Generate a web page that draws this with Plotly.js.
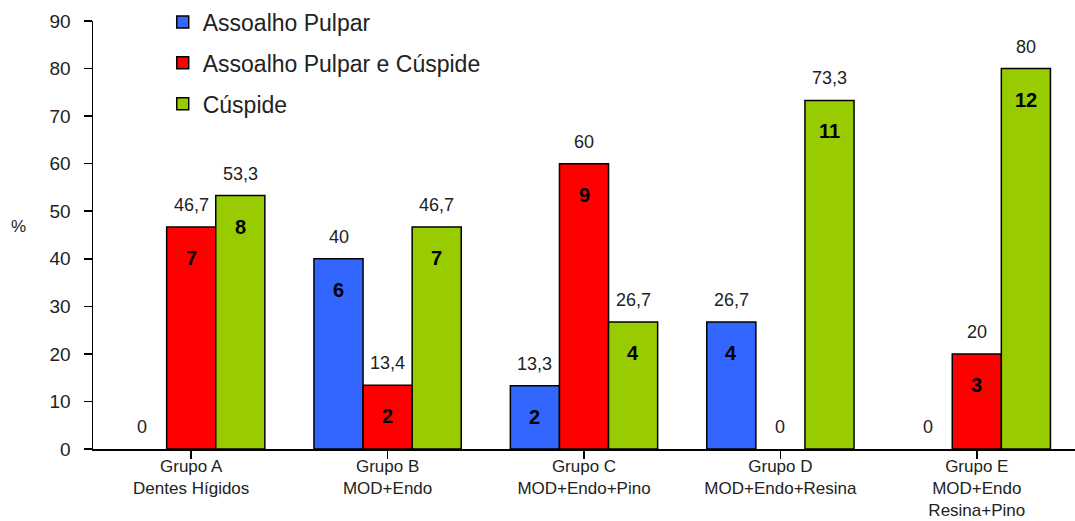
<!DOCTYPE html>
<html>
<head>
<meta charset="utf-8">
<script src="https://cdn.plot.ly/plotly-3.0.1.min.js"></script>
<style>html,body{margin:0;padding:0;background:#fff;}#chart{width:1075px;height:521px;}</style>
</head>
<body>
<div id="chart"></div>
<script>
const categories = ["Grupo A<br>Dentes Hígidos", "Grupo B<br>MOD+Endo", "Grupo C<br>MOD+Endo+Pino", "Grupo D<br>MOD+Endo+Resina", "Grupo E<br>MOD+Endo<br>Resina+Pino"];
const seriesNames = ["Assoalho Pulpar", "Assoalho Pulpar e Cúspide", "Cúspide"];
const seriesColors = ["#3366FF", "#FF0000", "#99CC00"];
const pulpar = [0, 40, 13.3, 26.7, 0];
const pulparCuspide = [46.7, 13.4, 60, 0, 20];
const cuspide = [53.3, 46.7, 26.7, 73.3, 80];
const pulparLabels = ["0", "40", "13,3", "26,7", "0"];
const pulparCuspideLabels = ["46,7", "13,4", "60", "0", "20"];
const cuspideLabels = ["53,3", "46,7", "26,7", "73,3", "80"];
const pulparCounts = [0, 6, 2, 4, 0];
const pulparCuspideCounts = [7, 2, 9, 0, 3];
const cuspideCounts = [8, 7, 4, 11, 12];
const yTicks = [0, 10, 20, 30, 40, 50, 60, 70, 80, 90];

const values = [pulpar, pulparCuspide, cuspide];
const labels = [pulparLabels, pulparCuspideLabels, cuspideLabels];
const counts = [pulparCounts, pulparCuspideCounts, cuspideCounts];

const bargap = 0.25;
const bw = (1 - bargap) / 3;

const traces = values.map((v, i) => ({
  type: 'bar',
  name: seriesNames[i],
  x: categories.map((c, j) => j),
  y: v.map(val => val > 0 ? val : null),
  legendgroup: 'g' + i,
  marker: {color: seriesColors[i], line: {color: '#000', width: 1.5}},
  hoverinfo: 'skip'
}));

const annotations = [];
values.forEach((v, i) => {
  v.forEach((val, j) => {
    const xpos = j + (i - 1) * bw;
    annotations.push({
      x: xpos, y: val, xref: 'x', yref: 'y', text: labels[i][j], showarrow: false,
      yshift: 22, yanchor: 'middle', xanchor: 'center',
      font: {family: 'Liberation Sans, Arial, sans-serif', size: 18, color: '#222'}
    });
    if (counts[i][j] > 0) {
      annotations.push({
        x: xpos, y: val, xref: 'x', yref: 'y', text: '<b>' + counts[i][j] + '</b>', showarrow: false,
        yshift: -31, yanchor: 'middle', xanchor: 'center',
        font: {family: 'Liberation Sans, Arial, sans-serif', size: 20, color: '#000'}
      });
    }
  });
});
annotations.push({
  xref: 'paper', yref: 'paper', x: -0.076, y: 0.52, text: '%', showarrow: false,
  xanchor: 'center', yanchor: 'middle',
  font: {family: 'Liberation Sans, Arial, sans-serif', size: 17, color: '#222'}
});

const layout = {
  width: 1075, height: 521,
  margin: {l: 93, r: 0, t: 21, b: 72},
  paper_bgcolor: '#fff', plot_bgcolor: '#fff',
  barmode: 'group', bargap: bargap, bargroupgap: 0,
  showlegend: true,
  legend: {
    x: 0.071, y: 1.048, xanchor: 'left', yanchor: 'top',
    bgcolor: 'rgba(0,0,0,0)', traceorder: 'grouped', tracegroupgap: 8,
    font: {family: 'Liberation Sans, Arial, sans-serif', size: 23, color: '#222'}
  },
  xaxis: {
    tickmode: 'array', tickvals: categories.map((c, j) => j), ticktext: categories,
    range: [-0.5, 4.5], showline: true, linecolor: '#000', linewidth: 1.5,
    ticks: 'outside', tickson: 'boundaries', ticklen: 8, tickcolor: '#000', tickwidth: 1.5,
    ticklabelstandoff: -7,
    showgrid: false, zeroline: false,
    tickfont: {family: 'Liberation Sans, Arial, sans-serif', size: 17, color: '#222'}
  },
  yaxis: {
    range: [0, 90], tickmode: 'array', tickvals: yTicks, ticktext: yTicks.map(String),
    showline: true, linecolor: '#000', linewidth: 1.5,
    ticks: 'outside', ticklen: 8, tickcolor: '#000', tickwidth: 1.5,
    ticklabelstandoff: 9,
    showgrid: false, zeroline: false,
    tickfont: {family: 'Liberation Sans, Arial, sans-serif', size: 19, color: '#222'}
  },
  annotations: annotations
};

Plotly.newPlot('chart', traces, layout, {displayModeBar: false, staticPlot: true});
</script>
</body>
</html>
